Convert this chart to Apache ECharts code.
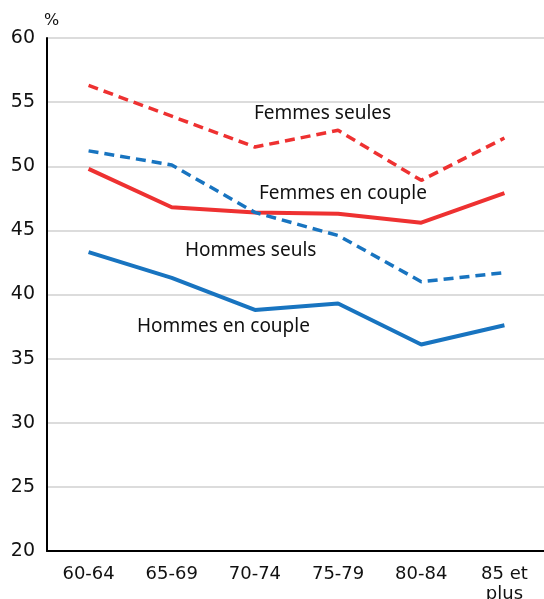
<!DOCTYPE html>
<html><head><meta charset="utf-8">
<script src="https://cdn.jsdelivr.net/npm/echarts@6/dist/echarts.min.js"></script>
<style>html,body{margin:0;padding:0;background:#fff}#c{width:544px;height:599px}</style>
</head><body><div id="c"></div>
<script>
var categories = ['60-64', '65-69', '70-74', '75-79', '80-84', '85 et\nplus'];
var femmesSeules = [56.3, 53.9, 51.5, 52.8, 48.9, 52.2];
var femmesCouple = [49.8, 46.8, 46.4, 46.3, 45.6, 47.9];
var hommesSeuls = [51.2, 50.1, 46.4, 44.6, 41.0, 41.7];
var hommesCouple = [43.3, 41.3, 38.8, 39.3, 36.1, 37.6];
var RED = '#ee3131', BLUE = '#1874c0';
var chart = echarts.init(document.getElementById('c'));
var lbl = {fontFamily: 'Noto Sans', fontSize: 19, fill: '#111'};
function txt(x, y, s) {
  return {type: 'text', left: x, top: y, style: Object.assign({text: s}, lbl)};
}
chart.setOption({
  animation: false,
  grid: {left: 47, right: -2, top: 38, bottom: 48, containLabel: false, outerBoundsMode: 'none'},
  xAxis: {
    type: 'category', data: categories, boundaryGap: true,
    axisLine: {lineStyle: {color: '#000', width: 2}},
    axisTick: {show: false},
    axisLabel: {color: '#111', fontFamily: 'DejaVu Sans', fontSize: 18, margin: 13, lineHeight: 20}
  },
  yAxis: {
    type: 'value', min: 20, max: 60, interval: 5,
    name: '%', nameGap: 9,
    nameTextStyle: {color: '#111', fontFamily: 'DejaVu Sans', fontSize: 16, align: 'left', padding: [0, 0, 0, -3]},
    axisLine: {show: true, lineStyle: {color: '#000', width: 2}},
    axisTick: {show: false},
    splitLine: {lineStyle: {color: '#dcdcdc', width: 2}},
    axisLabel: {color: '#111', fontFamily: 'DejaVu Sans', fontSize: 19, margin: 12}
  },
  graphic: [
    txt(254, 104, 'Femmes seules'),
    txt(259, 184, 'Femmes en couple'),
    txt(185, 241, 'Hommes seuls'),
    txt(137, 317, 'Hommes en couple')
  ],
  series: [
    {name: 'Femmes seules', type: 'line', data: femmesSeules, symbol: 'none',
     lineStyle: {color: RED, width: 3.5, type: [10, 6]}},
    {name: 'Femmes en couple', type: 'line', data: femmesCouple, symbol: 'none',
     lineStyle: {color: RED, width: 4}},
    {name: 'Hommes seuls', type: 'line', data: hommesSeuls, symbol: 'none',
     lineStyle: {color: BLUE, width: 3.5, type: [10, 6]}},
    {name: 'Hommes en couple', type: 'line', data: hommesCouple, symbol: 'none',
     lineStyle: {color: BLUE, width: 4}}
  ]
});
</script></body></html>
